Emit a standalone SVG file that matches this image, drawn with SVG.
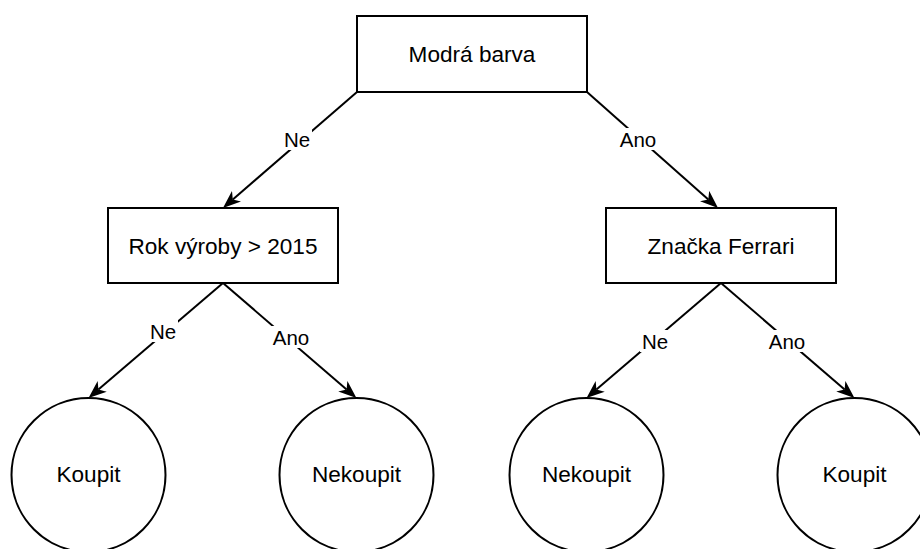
<svg xmlns="http://www.w3.org/2000/svg" width="920" height="549" viewBox="0 0 920 549">
  <style>
    .box { fill: #ffffff; stroke: #000000; stroke-width: 2; }
    .node-text { font-family: "Liberation Sans", Arial, sans-serif; font-size: 22.6px; fill: #000000; text-anchor: middle; }
    .edge { fill: none; stroke: #000000; stroke-width: 2; marker-end: url(#arrow); }
    .label-bg { fill: #ffffff; }
    .label { font-family: "Liberation Sans", Arial, sans-serif; font-size: 20.5px; fill: #000000; text-anchor: middle; }
  </style>
  <defs>
    <marker id="arrow" viewBox="0 0 18 14" markerWidth="18" markerHeight="14" refX="5" refY="7" markerUnits="userSpaceOnUse" orient="auto">
      <path d="M0,0 L18,7 L0,14 L5,7 Z" fill="#000000"/>
    </marker>
  </defs>
  <rect width="920" height="549" fill="#ffffff"/>

  <g id="connectors">
    <path class="edge" d="M357,92 L232.8,199.5"/>
    <path class="edge" d="M587,92 L708.3,199.4"/>
    <path class="edge" d="M223,283 L98.4,389.6"/>
    <path class="edge" d="M223,283 L346.6,389.5"/>
    <path class="edge" d="M721,283 L596.4,389.6"/>
    <path class="edge" d="M721,283 L844.6,389.5"/>

    <rect class="label-bg" x="282" y="128" width="30" height="22"/>
    <text class="label" x="297" y="147">Ne</text>
    <rect class="label-bg" x="618" y="128" width="40" height="22"/>
    <text class="label" x="638" y="147">Ano</text>

    <rect class="label-bg" x="148" y="320" width="30" height="22"/>
    <text class="label" x="163" y="339">Ne</text>
    <rect class="label-bg" x="271" y="326" width="40" height="22"/>
    <text class="label" x="291" y="345">Ano</text>

    <rect class="label-bg" x="640" y="330" width="30" height="22"/>
    <text class="label" x="655" y="349">Ne</text>
    <rect class="label-bg" x="767" y="330" width="40" height="22"/>
    <text class="label" x="787" y="349">Ano</text>
  </g>

  <g id="node-modra-barva">
    <rect class="box" x="357" y="16" width="230" height="76"/>
    <text class="node-text" x="472" y="61.5">Modrá barva</text>
  </g>
  <g id="node-rok-vyroby">
    <rect class="box" x="108" y="208" width="230" height="75"/>
    <text class="node-text" x="223" y="253.5">Rok výroby &gt; 2015</text>
  </g>
  <g id="node-znacka-ferrari">
    <rect class="box" x="606" y="208" width="230" height="75"/>
    <text class="node-text" x="721" y="253.5">Značka Ferrari</text>
  </g>
  <g id="node-koupit-1">
    <circle class="box" cx="88.5" cy="475" r="77"/>
    <text class="node-text" x="88.5" y="482">Koupit</text>
  </g>
  <g id="node-nekoupit-1">
    <circle class="box" cx="356.5" cy="475" r="77"/>
    <text class="node-text" x="356.5" y="482">Nekoupit</text>
  </g>
  <g id="node-nekoupit-2">
    <circle class="box" cx="586.5" cy="475" r="77"/>
    <text class="node-text" x="586.5" y="482">Nekoupit</text>
  </g>
  <g id="node-koupit-2">
    <circle class="box" cx="854.5" cy="475" r="77"/>
    <text class="node-text" x="854.5" y="482">Koupit</text>
  </g>
</svg>
